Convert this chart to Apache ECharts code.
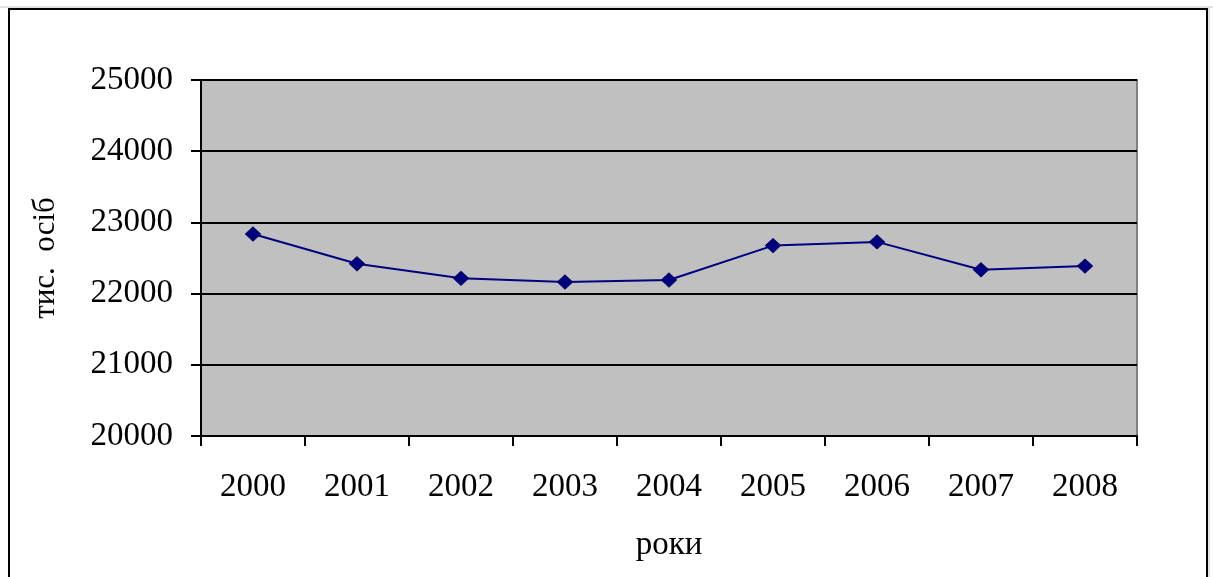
<!DOCTYPE html>
<html>
<head>
<meta charset="utf-8">
<script src="https://cdn.jsdelivr.net/npm/echarts@6/dist/echarts.min.js"></script>
<style>
  html, body { margin: 0; padding: 0; background: #ffffff; }
  #chart { width: 1213px; height: 577px; }
</style>
</head>
<body>
<div id="chart"></div>
<script>
// Population by year, thousands of persons
const years = ['2000', '2001', '2002', '2003', '2004', '2005', '2006', '2007', '2008'];
const population = [22837, 22419, 22214, 22163, 22191, 22674, 22726, 22335, 22386];
const yTicks = { min: 20000, max: 25000, interval: 1000 };
const yAxisTitle = 'тис.  осіб';
const xAxisTitle = 'роки';

const FONT = '"Liberation Serif", "Times New Roman", serif';
const chart = echarts.init(document.getElementById('chart'), null, { renderer: 'canvas' });

chart.setOption({
  backgroundColor: '#ffffff',
  animation: false,
  graphic: [
    // light edge around the frame
    { type: 'line', shape: { x1: 0, y1: 7, x2: 1213, y2: 7 }, style: { stroke: '#c8c8c8', lineWidth: 1 }, silent: true },
    { type: 'line', shape: { x1: 1209, y1: 7, x2: 1209, y2: 577 }, style: { stroke: '#c8c8c8', lineWidth: 1 }, silent: true },
    // chart frame
    { type: 'rect', shape: { x: 9, y: 9, width: 1198, height: 600 }, style: { fill: 'none', stroke: '#000000', lineWidth: 2 }, silent: true }
  ],
  grid: {
    left: 201, top: 80, right: 76, bottom: 141,
    show: true,
    backgroundColor: '#c0c0c0',
    borderColor: '#808080',
    borderWidth: 2
  },
  xAxis: {
    type: 'category',
    data: years,
    boundaryGap: true,
    name: xAxisTitle,
    nameLocation: 'middle',
    nameGap: 93,
    nameTextStyle: { fontFamily: FONT, fontSize: 33, color: '#000000' },
    axisLine: { show: true, lineStyle: { color: '#000000', width: 2 } },
    axisTick: { show: true, length: 10, inside: false, alignWithLabel: false, lineStyle: { color: '#000000', width: 2 } },
    axisLabel: { fontFamily: FONT, fontSize: 33, color: '#000000', margin: 35, interval: 0 },
    splitLine: { show: false }
  },
  yAxis: {
    type: 'value',
    min: yTicks.min,
    max: yTicks.max,
    interval: yTicks.interval,
    name: yAxisTitle,
    nameLocation: 'middle',
    nameGap: 140,
    nameRotate: 90,
    nameTextStyle: { fontFamily: FONT, fontSize: 31, color: '#000000' },
    axisLine: { show: true, lineStyle: { color: '#000000', width: 2 } },
    axisTick: { show: true, length: 10, inside: false, lineStyle: { color: '#000000', width: 2 } },
    axisLabel: { fontFamily: FONT, fontSize: 33, color: '#000000', margin: 28, formatter: v => String(v) },
    splitLine: { show: true, lineStyle: { color: '#000000', width: 2 } }
  },
  series: [{
    type: 'line',
    data: population,
    symbol: 'diamond',
    symbolSize: [15, 14],
    lineStyle: { color: '#000080', width: 2 },
    itemStyle: { color: '#000080', borderColor: '#000060', borderWidth: 1 }
  }]
});
</script>
</body>
</html>
